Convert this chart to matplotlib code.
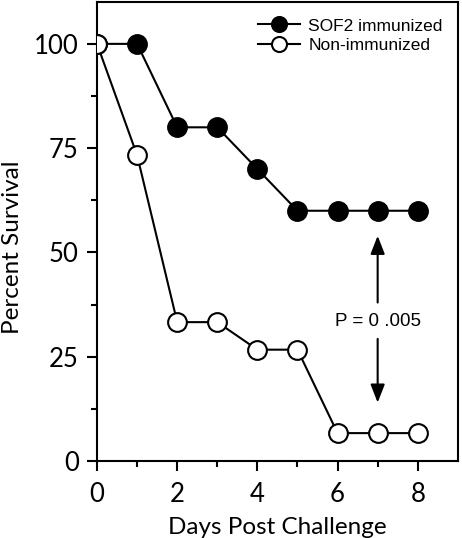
import numpy as np
import matplotlib
matplotlib.use('Agg')
import matplotlib.pyplot as plt

# survival data
days = [0, 1, 2, 3, 4, 5, 6, 7, 8]
sof2 = [100, 100, 80, 80, 70, 60, 60, 60, 60]
nonimm = [100, 73.3, 33.3, 33.3, 26.7, 26.7, 6.7, 6.7, 6.7]
labels = ["SOF2 immunized", "Non-immunized"]
pval = "P = 0 .005"

plt.rcParams['font.family'] = ['Lato', 'DejaVu Sans']

fig = plt.figure(figsize=(4.62, 5.38), dpi=100)
ax = fig.add_axes([0.210, 0.143, 0.781, 0.853])

ms = 13.5
ax.plot(days, sof2, '-o', color='k', lw=1.5, ms=ms, mfc='k', mec='k', mew=1.5,
        label=labels[0], zorder=3)
ax.plot(days, nonimm, '-o', color='k', lw=1.5, ms=ms, mfc='white', mec='k', mew=1.5,
        label=labels[1], zorder=4)

# p-value arrows
arr = dict(arrowstyle='-|>,head_length=11,head_width=4.3', mutation_scale=1,
           color='k', lw=1.5, shrinkA=0, shrinkB=0)
ax.annotate('', xy=(7, 54), xytext=(7, 38), arrowprops=arr)
ax.annotate('', xy=(7, 14), xytext=(7, 29.3), arrowprops=arr)
ax.text(7.02, 33.5, pval, ha='center', va='center', fontsize=13.5,
        family=['Liberation Sans', 'DejaVu Sans'])

ax.set_xlim(0, 9)
ax.set_ylim(0, 110)
ax.set_xticks([0, 2, 4, 6, 8])
ax.set_xticks([1, 3, 5, 7], minor=True)
ax.set_yticks([0, 25, 50, 75, 100])
ax.set_yticks([12.5, 37.5, 62.5, 87.5], minor=True)
ax.tick_params(which='major', length=7, width=1.5, labelsize=18.5, direction='out')
ax.tick_params(which='minor', length=4, width=1.5, direction='out')
ax.tick_params(axis='x', pad=8)
ax.tick_params(axis='y', pad=6)
for s in ax.spines.values():
    s.set_linewidth(1.5)

ax.set_xlabel('Days Post Challenge', fontsize=17.5, labelpad=7)
ax.set_ylabel('Percent Survival', fontsize=17.5)
ax.yaxis.set_label_coords(-0.205, 0.466)

ax.legend(loc='upper left', bbox_to_anchor=(0.41, 0.993),
          frameon=False, handlelength=2.4, handletextpad=0.5,
          labelspacing=0.25, borderaxespad=0.35, markerscale=0.8,
          prop={'family': ['Liberation Sans', 'DejaVu Sans'], 'size': 12.5})

fig.savefig('out.png', dpi=100)
